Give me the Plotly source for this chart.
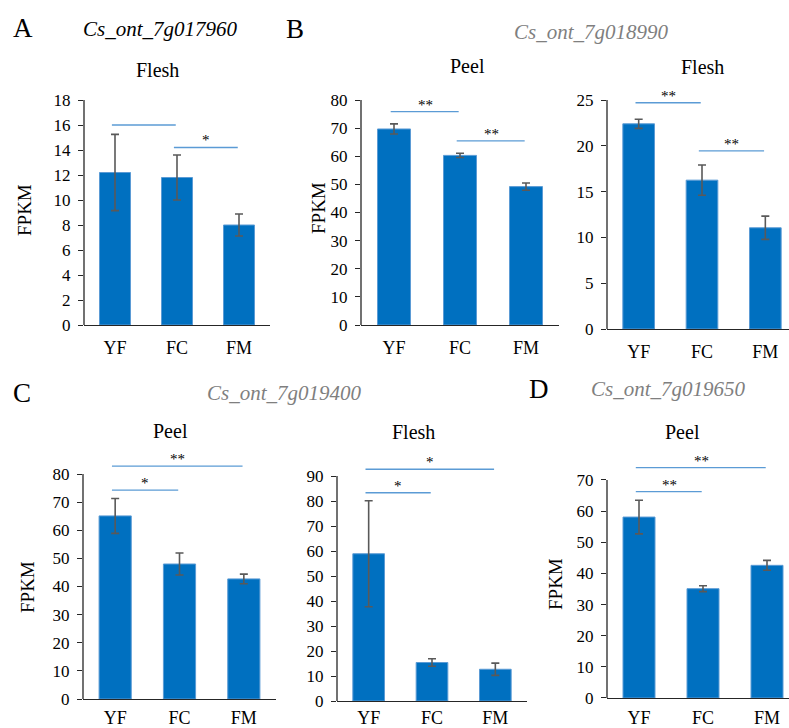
import plotly.graph_objects as go

# ---------------- data ----------------
categories = ["YF", "FC", "FM"]

a_flesh_mean = [12.2, 11.8, 8.0]
a_flesh_err = [3.05, 1.8, 0.88]

b_peel_mean = [69.7, 60.3, 49.2]
b_peel_err = [1.8, 0.75, 1.3]

b_flesh_mean = [22.4, 16.25, 11.05]
b_flesh_err = [0.5, 1.65, 1.27]

c_peel_mean = [65.1, 48.0, 42.7]
c_peel_err = [6.2, 3.9, 1.7]

c_flesh_mean = [58.9, 15.4, 12.7]
c_flesh_err = [21.2, 1.5, 2.45]

d_peel_mean = [58.1, 35.1, 42.6]
d_peel_err = [5.4, 0.95, 1.6]

# significance brackets: (from index, to index, height, label)
a_flesh_sig = [(0, 1, 16.0, ""), (1, 2, 14.2, "*")]
b_peel_sig = [(0, 1, 75.9, "**"), (1, 2, 65.5, "**")]
b_flesh_sig = [(0, 1, 24.7, "**"), (1, 2, 19.45, "**")]
c_peel_sig = [(0, 1, 74.3, "*"), (0, 2, 82.8, "**")]
c_flesh_sig = [(0, 1, 83.3, "*"), (0, 2, 92.7, "*")]
d_peel_sig = [(0, 1, 66.3, "**"), (0, 2, 74.0, "**")]

gene_names = ["Cs_ont_7g017960", "Cs_ont_7g018990", "Cs_ont_7g019400", "Cs_ont_7g019650"]
panel_letters = ["A", "B", "C", "D"]
y_title = "FPKM"

# ---------------- styling / layout ----------------
W, H = 789, 728
FONT = "Times New Roman"
BAR = "#0070C0"
BAR_EDGE = "#5B9BD5"
ERR = "#595959"
SIG = "#5B9BD5"
AXIS = "#262626"
GRAY = "#7F7F7F"


def px(p):
    return p / W


def py(p):
    return 1 - p / H


panels = [
    dict(x0=84, x1=270, yt=100, yb=325, ymax=18, dtick=2, title="Flesh", so=6,
         mean=a_flesh_mean, err=a_flesh_err, sig=a_flesh_sig, tpos=(157, 70), ylab=(25, 210)),
    dict(x0=361, x1=559, yt=100, yb=325, ymax=80, dtick=10, title="Peel", so=6,
         mean=b_peel_mean, err=b_peel_err, sig=b_peel_sig, tpos=(467, 66), ylab=(318, 208)),
    dict(x0=607, x1=797, yt=100, yb=329, ymax=25, dtick=5, title="Flesh", so=6,
         mean=b_flesh_mean, err=b_flesh_err, sig=b_flesh_sig, tpos=(702, 67), ylab=None),
    dict(x0=83, x1=276, yt=474, yb=699, ymax=80, dtick=10, title="Peel", so=2,
         mean=c_peel_mean, err=c_peel_err, sig=c_peel_sig, tpos=(170, 431), ylab=(27, 587)),
    dict(x0=337, x1=527, yt=476, yb=701, ymax=90, dtick=10, title="Flesh", so=0,
         mean=c_flesh_mean, err=c_flesh_err, sig=c_flesh_sig, tpos=(413, 432), ylab=None),
    dict(x0=607, x1=799, yt=480, yb=698, ymax=70, dtick=10, title="Peel", so=3,
         mean=d_peel_mean, err=d_peel_err, sig=d_peel_sig, tpos=(682, 432), ylab=(555, 584)),
]

fig = go.Figure()
annotations = []
shapes = []
layout_axes = {}

for i, p in enumerate(panels):
    n = i + 1
    xa = "x" if n == 1 else f"x{n}"
    ya = "y" if n == 1 else f"y{n}"
    xkey = "xaxis" if n == 1 else f"xaxis{n}"
    ykey = "yaxis" if n == 1 else f"yaxis{n}"

    # panels running off the right edge are clipped there
    unit = (p["x1"] - p["x0"]) / 3.0
    x1c = min(p["x1"], W)
    xr_end = -0.5 + (x1c - p["x0"]) / unit

    # extend the value range upward so brackets above the top tick are drawn
    ytop_val = max(p["ymax"], max(s[2] for s in p["sig"]) * 1.06)
    ppu = (p["yb"] - p["yt"]) / p["ymax"]
    yt_ext = p["yb"] - ppu * ytop_val

    fig.add_trace(go.Bar(
        x=list(range(len(categories))), y=p["mean"],
        marker=dict(color=BAR, line=dict(color=BAR_EDGE, width=1)),
        width=0.5,
        error_y=dict(type="data", array=p["err"], visible=True, color=ERR, thickness=1.6, width=4),
        xaxis=xa, yaxis=ya, showlegend=False, hoverinfo="skip",
    ))

    for (a, b, h, lab) in p["sig"]:
        fig.add_trace(go.Scatter(
            x=[a - 0.05, b - 0.02], y=[h, h], mode="lines",
            line=dict(color=SIG, width=1.3),
            xaxis=xa, yaxis=ya, showlegend=False, hoverinfo="skip",
        ))
        if lab:
            annotations.append(dict(
                x=(a + b) / 2 - 0.03, y=h, xref=xa, yref=ya, text=lab, showarrow=False,
                yanchor="bottom", yshift=-3,
                font=dict(family=FONT, size=15, color="#000000"),
            ))

    # y-axis line only up to the top tick
    shapes.append(dict(
        type="line", xref=f"{xa} domain", yref=ya, x0=0, x1=0, y0=0, y1=p["ymax"],
        line=dict(color=AXIS, width=1.3), layer="above",
    ))

    tv = list(range(0, p["ymax"] + 1, p["dtick"]))
    layout_axes[xkey] = dict(
        domain=[px(p["x0"]), px(x1c)], anchor=ya, range=[-0.5, xr_end],
        tickvals=list(range(len(categories))), ticktext=categories,
        showline=True, linecolor=AXIS, linewidth=1.3, ticks="", ticklabelstandoff=p["so"],
        showgrid=False, zeroline=False, fixedrange=True, automargin=False,
        tickfont=dict(family=FONT, size=18, color="#000000"),
    )
    layout_axes[ykey] = dict(
        domain=[py(p["yb"]), py(yt_ext)], anchor=xa, range=[0, ytop_val],
        tickvals=tv, ticktext=[str(v) for v in tv],
        showline=False, ticks="outside", ticklen=5, ticklabelstandoff=4,
        tickcolor=AXIS, tickwidth=1.2,
        showgrid=False, zeroline=False, fixedrange=True, automargin=False,
        tickfont=dict(family=FONT, size=17, color="#000000"),
    )

    annotations.append(dict(
        x=px(p["tpos"][0]), y=py(p["tpos"][1]), xref="paper", yref="paper",
        text=p["title"], showarrow=False, xanchor="center", yanchor="middle",
        font=dict(family=FONT, size=20, color="#000000"),
    ))
    if p["ylab"]:
        annotations.append(dict(
            x=px(p["ylab"][0]), y=py(p["ylab"][1]), xref="paper", yref="paper",
            text=y_title, showarrow=False, xanchor="center", yanchor="middle", textangle=-90,
            font=dict(family=FONT, size=19, color="#000000"),
        ))

letter_pos = [(23, 28), (295, 29), (22, 393), (539, 389)]
gene_pos = [(160, 29), (591, 32), (284, 393), (668, 389)]
gene_colors = ["#000000", GRAY, GRAY, GRAY]
for k in range(4):
    annotations.append(dict(
        x=px(letter_pos[k][0]), y=py(letter_pos[k][1]), xref="paper", yref="paper",
        text=panel_letters[k], showarrow=False, xanchor="center", yanchor="middle",
        font=dict(family=FONT, size=27, color="#000000"),
    ))
    annotations.append(dict(
        x=px(gene_pos[k][0]), y=py(gene_pos[k][1]), xref="paper", yref="paper",
        text=f"<i>{gene_names[k]}</i>", showarrow=False, xanchor="center", yanchor="middle",
        font=dict(family=FONT, size=21, color=gene_colors[k]),
    ))

fig.update_layout(
    template="none",
    width=W, height=H, autosize=False,
    margin=dict(l=0, r=0, t=0, b=0, pad=0),
    paper_bgcolor="white", plot_bgcolor="white",
    font=dict(family=FONT),
    annotations=annotations,
    shapes=shapes,
    bargap=0.5,
    **layout_axes,
)

fig.write_html(
    "out.html",
    config={"displayModeBar": False},
    post_script="document.body.style.margin='0px';document.body.style.overflow='hidden';",
)
